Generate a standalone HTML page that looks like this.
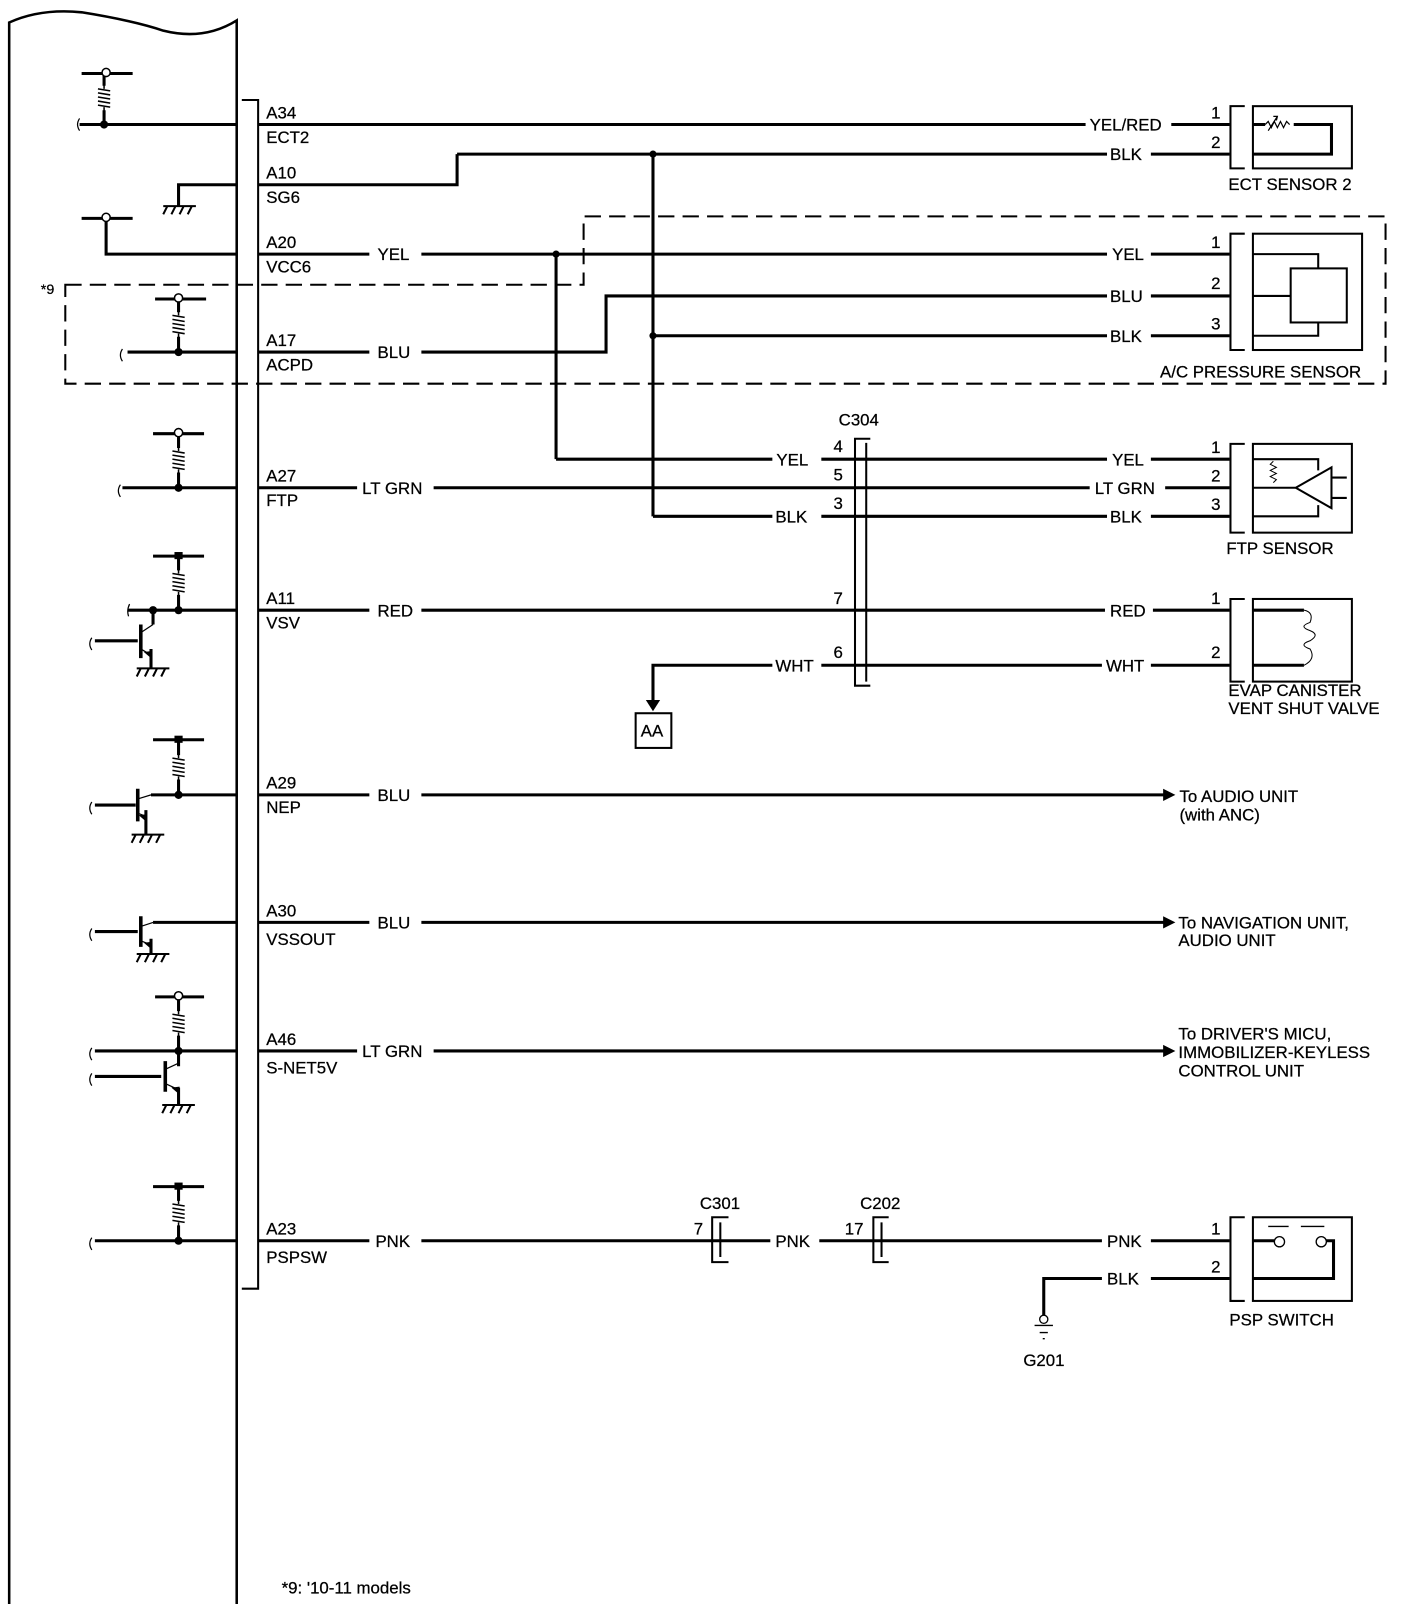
<!DOCTYPE html>
<html><head><meta charset="utf-8"><style>
html,body{margin:0;padding:0;background:#fff}
svg{display:block}
text{font-family:"Liberation Sans",Arial,sans-serif;font-size:16.5px;fill:#000;stroke:#000;stroke-width:0.25}
</style></head><body>
<svg width="1408" height="1604" viewBox="0 0 1380 1572" xmlns="http://www.w3.org/2000/svg">
<defs>
<g id="res"><path d="M0,-14 L0,-9 M-6,-9 L6,-7 M-6,-5 L6,-3 M-6,-1 L6,1 M-6,3 L6,5 M-6,7 L6,9 M0,9 L0,14" stroke="#000" stroke-width="1.5" fill="none"/></g>
<g id="gnd"><path d="M-16,0 L16,0 M-12,0 L-16,8 M-4,0 L-8,8 M4,0 L0,8 M12,0 L8,8" stroke="#000" stroke-width="2" fill="none"/></g>
</defs>
<g fill="none" stroke="#000" stroke-width="3">
<path d="M9,1572 L9,22 Q40,8 80,12 Q130,20 160,30 Q200,40 232,20 L232,1572" stroke-width="2.5"/>
<path d="M237,98 L253,98 L253,1263 L237,1263" stroke-width="2"/>
<path d="M64,279 L572,279 L572,212 L1358,212 L1358,376 L64,376 Z" stroke-width="2" stroke-dasharray="16,8"/>

<path d="M253,122 L1064,122 M1148,122 L1205,122"/>
<path d="M448,151 L1085,151 M1128,151 L1205,151 M253,181 L448,181 L448,151 M640,151 L640,506"/>
<path d="M253,249 L362,249 M413,249 L1085,249 M1128,249 L1205,249 M545,249 L545,450"/>
<path d="M253,345 L362,345 M413,345 L594,345 L594,290 L1085,290 M1128,290 L1205,290 M640,329 L1085,329 M1128,329 L1205,329"/>
<path d="M545,450 L757,450 M805,450 L1085,450 M1128,450 L1205,450"/>
<path d="M253,478 L350,478 M425,478 L1068,478 M1142,478 L1205,478"/>
<path d="M640,506 L757,506 M805,506 L1085,506 M1128,506 L1205,506"/>
<path d="M253,598 L362,598 M413,598 L1083,598 M1130,598 L1205,598"/>
<path d="M640,690 L640,652 L757,652 M805,652 L1080,652 M1128,652 L1205,652"/>
<path d="M253,779 L362,779 M413,779 L1142,779"/>
<path d="M253,904 L362,904 M413,904 L1142,904"/>
<path d="M253,1030 L350,1030 M425,1030 L1142,1030"/>
<path d="M253,1216 L362,1216 M413,1216 L755,1216 M803,1216 L1080,1216 M1128,1216 L1205,1216 M1023,1290 L1023,1253 L1080,1253 M1128,1253 L1205,1253"/>

<path d="M78,122 L232,122 M102,122 L102,108 M102,84 L102,72 M80,72 L130,72"/>
<path d="M175,202 L175,181 L232,181"/>
<path d="M80,214 L130,214 M104,214 L104,249 L232,249"/>
<path d="M125,345 L232,345 M175,345 L175,330 M175,306 L175,293 M152,293 L202,293"/>
<path d="M120,478 L232,478 M175,478 L175,463 M175,439 L175,425 M150,425 L200,425"/>
<path d="M125,598 L232,598 M175,598 L175,583 M175,559 L175,545 M150,545 L200,545 M150,598 L150,612"/>
<path d="M93,628 L135,628 M148,636 L148,655"/>
<path d="M148,779 L232,779 M175,779 L175,764 M175,740 L175,725 M150,725 L200,725 M93,789 L133,789 M143,794 L143,818"/>
<path d="M150,904 L232,904 M93,913 L135,913 M148,920 L148,935"/>
<path d="M93,1030 L232,1030 M175,1030 L175,1015 M175,991 L175,977 M152,977 L200,977 M93,1055 L158,1055 M175,1030 L175,1045 M175,1066 L175,1083"/>
<path d="M93,1216 L232,1216 M175,1216 L175,1201 M175,1177 L175,1163 M150,1163 L200,1163"/>
<path d="M138,612 L138,645 M135,773 L135,805 M138,898 L138,928 M162,1040 L162,1070" stroke-width="3.5"/>
</g>
<g stroke="#000" stroke-width="1.2" fill="none">
<path d="M138,620 L150,612 M138,636 L148,642 M135,783 L148,779 M135,797 L143,800 M138,908 L150,904 M138,922 L148,926 M162,1048 L175,1042 M162,1062 L175,1068"/>
<path d="M78,116 q-4,6 0,12 M90,625 q-4,6 0,12 M90,786 q-4,6 0,12 M90,910 q-4,6 0,12 M90,1027 q-4,6 0,12 M90,1052 q-4,6 0,12 M90,1213 q-4,6 0,12 M120,342 q-4,6 0,12 M118,475 q-4,6 0,12 M127,592 q-3,6 -1,12"/>
</g>
<use href="#res" x="102" y="96"/><use href="#res" x="175" y="318"/><use href="#res" x="175" y="451"/>
<use href="#res" x="175" y="571"/><use href="#res" x="175" y="752"/><use href="#res" x="175" y="1003"/><use href="#res" x="175" y="1189"/>
<use href="#gnd" x="176" y="202"/><use href="#gnd" x="150" y="655"/><use href="#gnd" x="145" y="818"/><use href="#gnd" x="150" y="935"/><use href="#gnd" x="175" y="1083"/>
<g fill="#fff" stroke="#000" stroke-width="1.5">
<circle cx="104" cy="71" r="4"/><circle cx="104" cy="213" r="4"/><circle cx="175" cy="292" r="4"/><circle cx="175" cy="424" r="4"/><circle cx="175" cy="976" r="4"/>
</g>
<g fill="#000">
<circle cx="102" cy="122" r="4"/><circle cx="175" cy="345" r="4"/><circle cx="175" cy="478" r="4"/><circle cx="175" cy="598" r="4"/><circle cx="150" cy="598" r="4"/>
<circle cx="175" cy="779" r="4"/><circle cx="175" cy="1030" r="4"/><circle cx="175" cy="1216" r="4"/>
<rect x="171" y="541" width="8" height="7"/><rect x="171" y="721" width="8" height="7"/><rect x="171" y="1159" width="8" height="7"/>
<circle cx="640" cy="151" r="3.5"/><circle cx="640" cy="329" r="3.5"/><circle cx="545" cy="249" r="3.5"/>
<path d="M148,645 l-7,-6 l8,-1z M143,805 l-7,-6 l8,-1z M148,930 l-7,-6 l8,-1z M175,1072 l-7,-6 l8,-1z"/>
<path d="M633,686 L647,686 L640,697 Z"/>
<path d="M1140,773 L1152,779 L1140,785 Z M1140,898 L1152,904 L1140,910 Z M1140,1024 L1152,1030 L1140,1036 Z"/>
</g>
<g fill="none" stroke="#000" stroke-width="2">
<path d="M853,430 L838,430 L838,672 L853,672 M849,434 L849,668"/>
<rect x="623" y="699" width="35" height="34"/>
<path d="M714,1193 L698,1193 L698,1237 L714,1237 M706,1198 L706,1232"/>
<path d="M871,1193 L856,1193 L856,1237 L871,1237 M864,1198 L864,1232"/>
<path d="M1220,104 L1206,104 L1206,165 L1220,165"/><rect x="1228" y="104" width="97" height="61"/>
<path d="M1220,229 L1206,229 L1206,343 L1220,343"/><rect x="1228" y="229" width="107" height="114"/>
<path d="M1220,435 L1206,435 L1206,522 L1220,522"/><rect x="1228" y="435" width="97" height="87"/>
<path d="M1220,587 L1206,587 L1206,668 L1220,668"/><rect x="1228" y="587" width="97" height="81"/>
<path d="M1220,1193 L1206,1193 L1206,1275 L1220,1275"/><rect x="1228" y="1193" width="97" height="82"/>
<rect x="1265" y="263" width="55" height="53"/>
<path d="M1228,249 L1292,249 L1292,263 M1228,290 L1265,290 M1228,329 L1292,329 L1292,316"/>
<path d="M1228,122 L1240,122 M1268,122 L1305,122 L1305,151 L1228,151" stroke-width="3"/>
<path d="M1240,122 l3,-3 l3,6 l3,-6 l3,6 l3,-6 l3,6 l3,-6 l3,3" stroke-width="1.2"/>
<path d="M1243,128 L1252,114 M1248,114 L1252,114 L1251,118" stroke-width="1.2"/>
<path d="M1228,450 L1292,450 L1292,461 M1228,478 L1270,478 M1228,506 L1292,506 L1292,495 M1270,478 L1305,458 L1305,498 Z M1305,468 L1320,468 M1305,488 L1320,488"/>
<path d="M1248,452 l-3,3 l6,3 l-6,3 l6,3 l-6,3 l6,3 l-3,3" stroke-width="1"/>
<path d="M1228,598 L1278,598 M1228,652 L1278,652" stroke-width="3"/>
<path d="M1278,598 q10,2 6,12 q-12,4 0,8 q10,4 0,10 q-12,4 0,8 q6,10 -6,16" stroke-width="1"/>
<path d="M1228,1216 L1249,1216 M1300,1216 L1307,1216 L1307,1253 L1228,1253" stroke-width="3"/>
<circle cx="1254" cy="1217" r="5" fill="#fff" stroke-width="1.3"/><circle cx="1295" cy="1217" r="5" fill="#fff" stroke-width="1.3"/>
<path d="M1243,1202 L1263,1202 M1275,1202 L1298,1202" stroke-width="1.3"/>
<circle cx="1023" cy="1293" r="4" fill="#fff" stroke-width="1.3"/>
<path d="M1014,1299 L1032,1299 M1019,1306 L1027,1306 M1022,1312 L1024,1312" stroke-width="1.3"/>
</g>
<g>
<text x="261" y="116">A34</text><text x="261" y="140">ECT2</text>
<text x="261" y="175">A10</text><text x="261" y="199">SG6</text>
<text x="261" y="243">A20</text><text x="261" y="267">VCC6</text>
<text x="261" y="339">A17</text><text x="261" y="363">ACPD</text>
<text x="261" y="472">A27</text><text x="261" y="496">FTP</text>
<text x="261" y="592">A11</text><text x="261" y="616">VSV</text>
<text x="261" y="773">A29</text><text x="261" y="797">NEP</text>
<text x="261" y="898">A30</text><text x="261" y="926">VSSOUT</text>
<text x="261" y="1024">A46</text><text x="261" y="1052">S-NET5V</text>
<text x="261" y="1210">A23</text><text x="261" y="1238">PSPSW</text>
<text x="40" y="288" style="font-size:14px">*9</text>
</g>
<g>
<text x="370" y="255">YEL</text><text x="370" y="351">BLU</text><text x="355" y="484">LT GRN</text><text x="370" y="604">RED</text>
<text x="370" y="785">BLU</text><text x="370" y="910">BLU</text><text x="355" y="1036">LT GRN</text><text x="368" y="1222">PNK</text>
<text x="1068" y="128">YEL/RED</text><text x="1088" y="157">BLK</text>
<text x="1090" y="255">YEL</text><text x="1088" y="296">BLU</text><text x="1088" y="335">BLK</text>
<text x="761" y="456">YEL</text><text x="760" y="512">BLK</text><text x="760" y="658">WHT</text>
<text x="1090" y="456">YEL</text><text x="1073" y="484">LT GRN</text><text x="1088" y="512">BLK</text>
<text x="1088" y="604">RED</text><text x="1084" y="658">WHT</text>
<text x="760" y="1222">PNK</text><text x="1085" y="1222">PNK</text><text x="1085" y="1259">BLK</text>
<text x="817" y="443">4</text><text x="817" y="471">5</text><text x="817" y="499">3</text><text x="817" y="592">7</text><text x="817" y="645">6</text>
<text x="822" y="417">C304</text><text x="686" y="1185">C301</text><text x="843" y="1185">C202</text>
<text x="680" y="1210">7</text><text x="828" y="1210">17</text>
<text x="1187" y="116">1</text><text x="1187" y="145">2</text>
<text x="1187" y="243">1</text><text x="1187" y="283">2</text><text x="1187" y="323">3</text>
<text x="1187" y="444">1</text><text x="1187" y="472">2</text><text x="1187" y="500">3</text>
<text x="1187" y="592">1</text><text x="1187" y="645">2</text>
<text x="1187" y="1210">1</text><text x="1187" y="1247">2</text>
<text x="628" y="722">AA</text>
<text x="1204" y="186">ECT SENSOR 2</text>
<text x="1137" y="370">A/C PRESSURE SENSOR</text>
<text x="1202" y="543">FTP SENSOR</text>
<text x="1204" y="682">EVAP CANISTER</text><text x="1204" y="700">VENT SHUT VALVE</text>
<text x="1156" y="786">To AUDIO UNIT</text><text x="1156" y="804">(with ANC)</text>
<text x="1155" y="910">To NAVIGATION UNIT,</text><text x="1155" y="927">AUDIO UNIT</text>
<text x="1155" y="1019">To DRIVER'S MICU,</text><text x="1155" y="1037">IMMOBILIZER-KEYLESS</text><text x="1155" y="1055">CONTROL UNIT</text>
<text x="1205" y="1299">PSP SWITCH</text>
<text x="1003" y="1339">G201</text>
<text x="276" y="1562">*9: '10-11 models</text>
</g>
</svg>
</body></html>
